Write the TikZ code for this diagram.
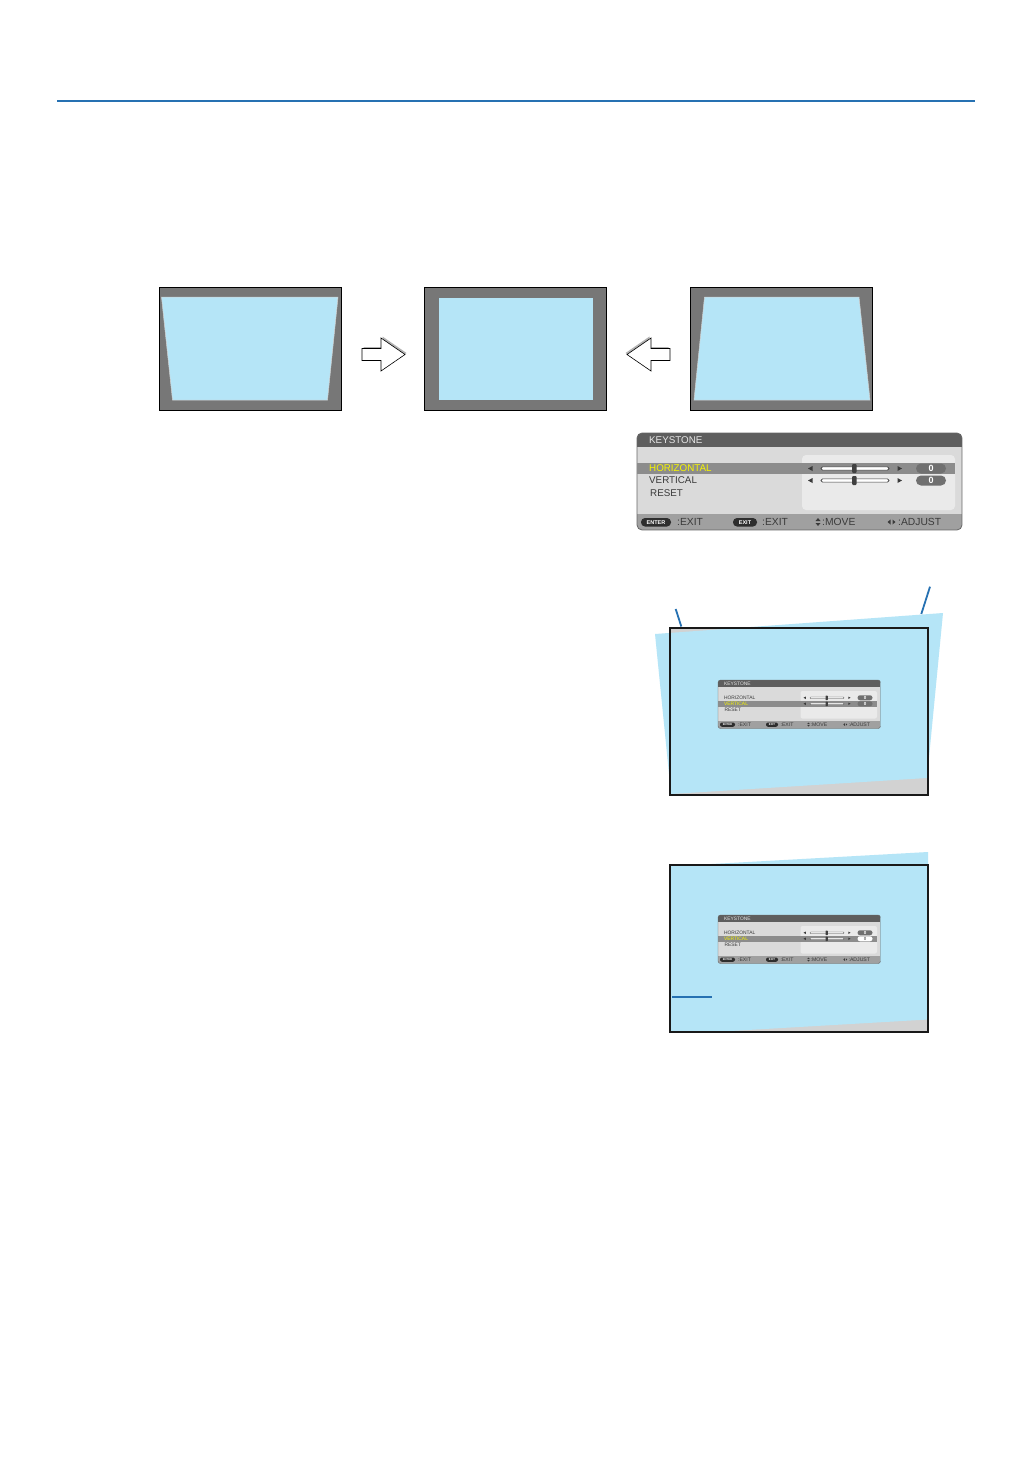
\documentclass[tikz,border=0pt]{standalone}
\usepackage{fontspec}
\setmainfont{Liberation Sans}
\definecolor{scrblue}{RGB}{181,229,247}
\definecolor{scrgray}{RGB}{119,119,119}
\definecolor{wallgray}{RGB}{210,210,210}
\definecolor{ruleblue}{RGB}{38,113,178}
\definecolor{menutitle}{RGB}{94,94,94}
\definecolor{menubody}{RGB}{218,218,218}
\definecolor{menupanel}{RGB}{234,234,234}
\definecolor{menubar}{RGB}{140,140,140}
\definecolor{menufoot}{RGB}{160,160,160}
\definecolor{menutext}{RGB}{58,58,58}
\definecolor{menuyellow}{RGB}{245,245,0}
\definecolor{menupill}{RGB}{112,112,112}

% #1 name prefix, #2 shift, #3 scale, #4 top of highlight bar,
% #5/#6 colours of the two row labels, #7/#8 fill and text of the second value
\newcommand{\keymenu}[8]{%
  \begin{scope}[shift={#2},scale=#3,transform shape]
    \begin{scope}
      \clip[rounded corners=5*#3] (0,0) rectangle (325,97);
      \fill[menutitle] (0,0) rectangle (325,14);
      \fill[menubody] (0,14) rectangle (325,81);
      \fill[menufoot] (0,81) rectangle (325,97);
    \end{scope}
    \draw[black!60,line width=0.8*#3,rounded corners=5*#3] (0,0) rectangle (325,97);
    \fill[menupanel,rounded corners=4*#3] (165,22) rectangle (318,77);
    \fill[menubar] (0,#4) rectangle (318,#4+11);
    \node[menutxt,text=black!10] (#1ttl) at (12,7) {KEYSTONE};
    \node[menutxt,text=#5] (#1hor) at (12,35.5) {HORIZONTAL};
    \node[menutxt,text=#6] (#1ver) at (12,47.5) {VERTICAL};
    \node[menutxt,text=menutext] (#1rst) at (13,60.5) {RESET};
    \foreach \yy/\pc/\zc/\nm in {35.5/menupill/white/hv,47.5/#7/#8/vv}{
      \fill[menutext] (171,\yy) -- (175.5,\yy-2.5) -- (175.5,\yy+2.5) -- cycle;
      \fill[menutext] (265,\yy) -- (260.5,\yy-2.5) -- (260.5,\yy+2.5) -- cycle;
      \draw[menutext,fill=white,rounded corners=1.5*#3,line width=0.6*#3] (184,\yy-1.6) rectangle (252,\yy+1.6);
      \fill[black!75,rounded corners=1*#3] (215,\yy-4.5) rectangle (219.5,\yy+4.5);
      \fill[\pc,rounded corners=5*#3] (279,\yy-5) rectangle (309,\yy+5);
      \node[font=\bfseries\fontsize{9}{9}\selectfont,text=\zc,inner sep=0] (#1\nm) at (294,\yy) {0};
    }
    \fill[black!82,rounded corners=4*#3] (4,85) rectangle (34,93.5);
    \node[keytxt] (#1ent) at (19,89.2) {ENTER};
    \node[foottxt] (#1exa) at (40,89) {:EXIT};
    \fill[black!82,rounded corners=4*#3] (96,85) rectangle (120,93.5);
    \node[keytxt] (#1esc) at (108,89.2) {EXIT};
    \node[foottxt] (#1exb) at (125,89) {:EXIT};
    \fill[menutext] (181,85) -- (183.5,88) -- (178.5,88) -- cycle;
    \fill[menutext] (181,93) -- (183.5,90) -- (178.5,90) -- cycle;
    \node[foottxt] (#1mov) at (185,89) {:MOVE};
    \fill[menutext] (250.5,89) -- (253.5,86.5) -- (253.5,91.5) -- cycle;
    \fill[menutext] (258.5,89) -- (255.5,86.5) -- (255.5,91.5) -- cycle;
    \node[foottxt] (#1adj) at (261,89) {:ADJUST};
  \end{scope}}

\begin{document}
\begin{tikzpicture}[x=1pt,y=-1pt,
  screen/.style={draw=black,fill=scrgray,line width=0.6,minimum width=182,minimum height=123,inner sep=0},
  frame/.style={draw=black!90,line width=1.8},
  callout/.style={draw=ruleblue,line width=1.8},
  menutxt/.style={font=\fontsize{9.8}{10}\selectfont,inner sep=0,anchor=west},
  foottxt/.style={font=\fontsize{10.3}{11}\selectfont,inner sep=0,anchor=west,text=menutext},
  keytxt/.style={font=\bfseries\fontsize{5.5}{6}\selectfont,inner sep=0,text=white}]
\useasboundingbox (0,0) rectangle (1032,1457);
\fill[white] (0,0) rectangle (1032,1457);
\draw[ruleblue,line width=2.2] (57,101) -- (975,101);

% three screens, before and after
\node[screen] (scrL) at (250,348.5) {};
\node[screen] (scrC) at (515.5,348.5) {};
\node[screen] (scrR) at (781.5,348.5) {};
\fill[scrblue,draw=gray!35,line width=0.5] (161.5,297) -- (338,297) -- (327.5,400) -- (172.5,400) -- cycle;
\fill[scrblue] (439,298) rectangle (593,400);
\fill[scrblue,draw=gray!35,line width=0.5] (704.5,297) -- (859,297) -- (870,400) -- (694,400) -- cycle;
\foreach \ax/\sg in {383.5/1,648.5/-1}{
  \begin{scope}[shift={(\ax,354.5)},xscale=\sg]
    \fill[gray!60,shift={(1.5,-1.5)}] (-21.5,-6) -- (-2.5,-6) -- (-2.5,-16.5) -- (21.5,0) -- (-2.5,16.5) -- (-2.5,6) -- (-21.5,6) -- cycle;
    \draw[fill=white,line width=0.6] (-21.5,-6) -- (-2.5,-6) -- (-2.5,-16.5) -- (21.5,0) -- (-2.5,16.5) -- (-2.5,6) -- (-21.5,6) -- cycle;
  \end{scope}
}

% menu
\keymenu{mA}{(637,433)}{1}{30}{menuyellow}{menutext}{menupill}{white}

% horizontal correction
\fill[wallgray] (670,628) rectangle (928,795);
\fill[scrblue] (655,634) -- (943,613) -- (927,778) -- (671,794) -- cycle;
\keymenu{mB}{(718,680)}{0.5}{42}{menutext}{menuyellow}{menupill}{white}
\draw[frame] (670,628) rectangle (928,795);
\coordinate (cTL) at (675.7,609);
\coordinate (pTL) at (681.3,626.5);
\coordinate (cTR) at (930,586.7);
\coordinate (pTR) at (921.3,614);
\draw[callout] (cTL) -- (pTL);
\draw[callout] (cTR) -- (pTR);

% vertical correction
\fill[wallgray] (670,865) rectangle (928,1032);
\fill[scrblue] (670,866.3) -- (928,852) -- (928,1019.5) -- (713,1032) -- (670,1032) -- cycle;
\keymenu{mC}{(718,915)}{0.5}{42}{menutext}{menuyellow}{white}{black!55}
\draw[frame] (670,865) rectangle (928,1032);
\coordinate (pL) at (672,997);
\coordinate (cL) at (712,997);
\draw[callout] (pL) -- (cL);
\end{tikzpicture}
\end{document}
